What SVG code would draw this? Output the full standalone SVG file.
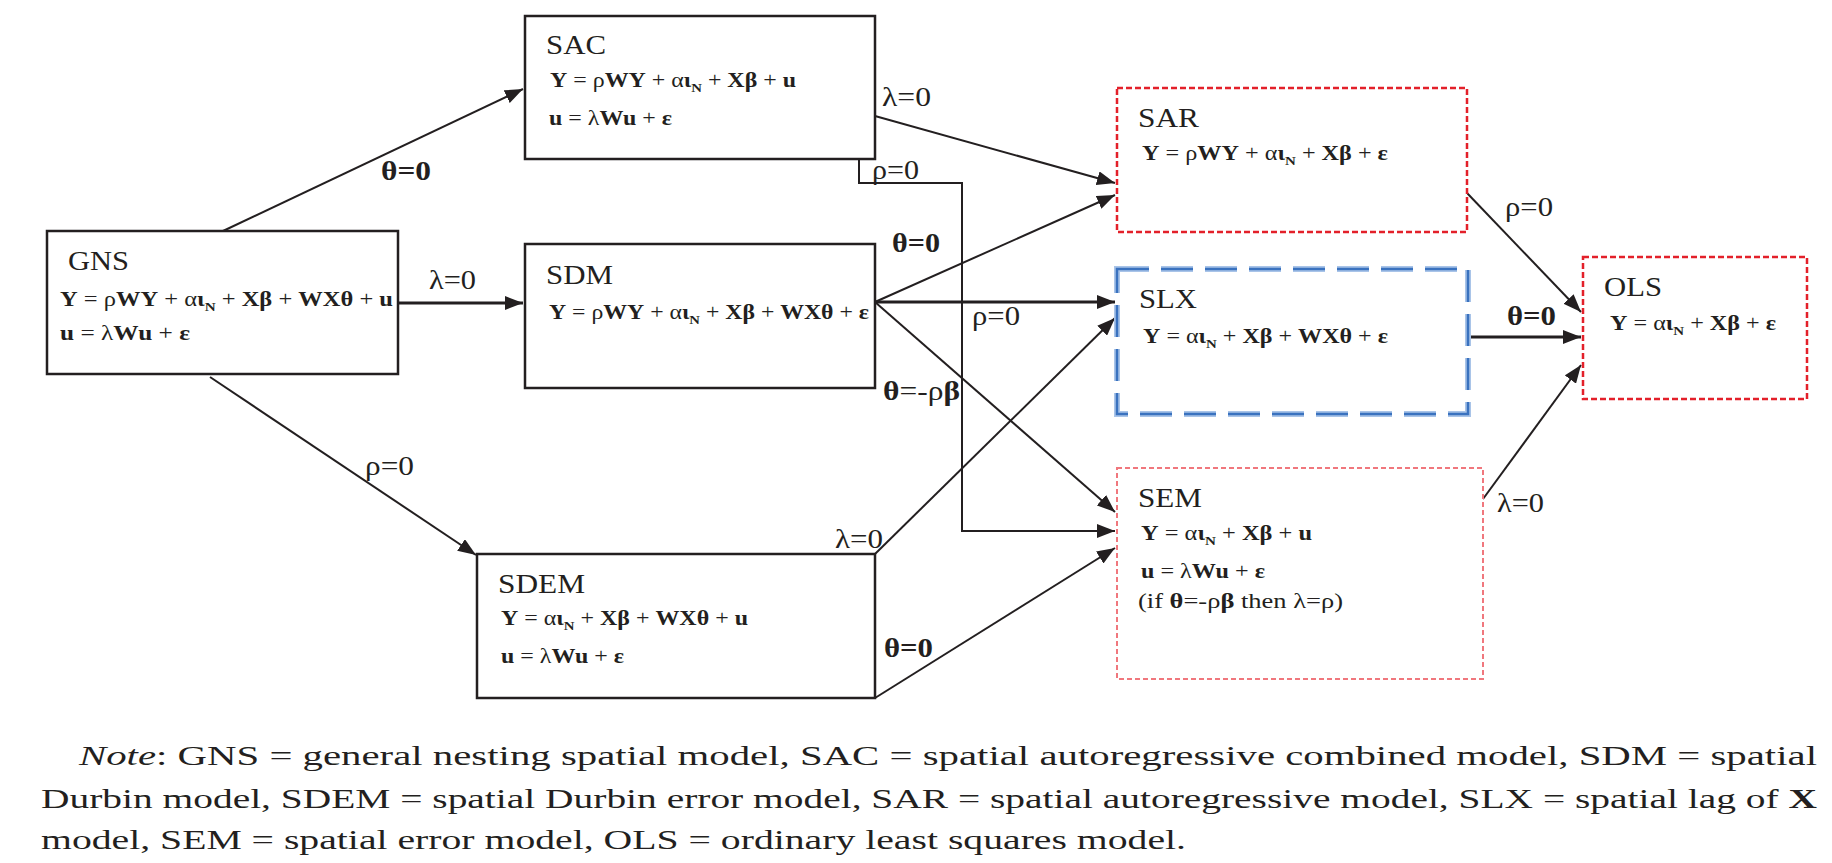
<svg xmlns="http://www.w3.org/2000/svg" width="1832" height="863" viewBox="0 0 1832 863">
<style>
text{font-family:"Liberation Serif","Times New Roman",serif;fill:#231f20}
.title{font-size:27px}
.eq{font-size:21px}
.b{font-weight:bold}
.sub{font-size:13px;font-weight:bold}
.lbl{font-size:28px}
.box{fill:#fff;stroke:#231f20;stroke-width:2.5}
.red{fill:#fff;stroke:#e3202a;stroke-width:2.5;stroke-dasharray:6 3}
.pink{fill:#fff;stroke:#f0777d;stroke-width:2;stroke-dasharray:5 3}
.blueo{fill:none;stroke:#a9c4e8;stroke-width:6;stroke-dasharray:32 12}
.bluei{fill:none;stroke:#3a72bf;stroke-width:2.5;stroke-dasharray:32 12}
.c{fill:none;stroke:#231f20;stroke-width:2;marker-end:url(#ah)}
.c3{fill:none;stroke:#231f20;stroke-width:3;marker-end:url(#ah)}
.note{font-size:27px}
</style>
<defs>
<marker id="ah" markerUnits="userSpaceOnUse" markerWidth="20" markerHeight="14" refX="18" refY="7" orient="auto">
<path d="M0,0 L18,7 L0,14 z" fill="#231f20"/>
</marker>
</defs>
<rect width="1832" height="863" fill="#fff"/>

<g id="connectors">
<path class="c" d="M223,231 L523,89"/>
<path class="c3" d="M398,303 L523,303"/>
<path class="c" d="M210,377 L476,555"/>
<path class="c" d="M875,116 L1115,183"/>
<path class="c" d="M859,159 L859,183 L962,183 L962,531 L1115,531"/>
<path class="c" d="M875,302 L1115,195"/>
<path class="c3" d="M875,302 L1115,302"/>
<path class="c" d="M875,302 L1115,512"/>
<path class="c" d="M875,554 L1115,318"/>
<path class="c" d="M875,698 L1115,548"/>
<path class="c" d="M1467,193 L1581,312"/>
<path class="c3" d="M1467,337 L1581,337"/>
<path class="c" d="M1483,499 L1581,365"/>
<text class="lbl b" x="381" y="180" textLength="50" lengthAdjust="spacingAndGlyphs">θ=0</text>
<text class="lbl" x="429" y="289" textLength="47" lengthAdjust="spacingAndGlyphs">λ=0</text>
<text class="lbl" x="365" y="475" textLength="49" lengthAdjust="spacingAndGlyphs">ρ=0</text>
<text class="lbl" x="882" y="106" textLength="49" lengthAdjust="spacingAndGlyphs">λ=0</text>
<text class="lbl" x="872" y="179" textLength="47" lengthAdjust="spacingAndGlyphs">ρ=0</text>
<text class="lbl b" x="892" y="252" textLength="48" lengthAdjust="spacingAndGlyphs">θ=0</text>
<text class="lbl" x="972" y="325" textLength="48" lengthAdjust="spacingAndGlyphs">ρ=0</text>
<text class="lbl" x="883" y="400" textLength="77" lengthAdjust="spacingAndGlyphs"><tspan class="b">θ</tspan>=-ρ<tspan class="b">β</tspan></text>
<text class="lbl" x="835" y="548" textLength="48" lengthAdjust="spacingAndGlyphs">λ=0</text>
<text class="lbl b" x="884" y="657" textLength="49" lengthAdjust="spacingAndGlyphs">θ=0</text>
<text class="lbl" x="1505" y="216" textLength="48" lengthAdjust="spacingAndGlyphs">ρ=0</text>
<text class="lbl b" x="1507" y="325" textLength="49" lengthAdjust="spacingAndGlyphs">θ=0</text>
<text class="lbl" x="1497" y="512" textLength="47" lengthAdjust="spacingAndGlyphs">λ=0</text>
</g>

<g id="GNS">
<rect class="box" x="47" y="231" width="351" height="143"/>
<text class="title" x="68" y="270" textLength="61" lengthAdjust="spacingAndGlyphs">GNS</text>
<text class="eq" x="60" y="306" textLength="333" lengthAdjust="spacingAndGlyphs"><tspan class="b">Y</tspan> = ρ<tspan class="b">WY</tspan> + α<tspan class="b">ι</tspan><tspan class="sub" dy="5">N</tspan><tspan dy="-5"> + </tspan><tspan class="b">Xβ</tspan> + <tspan class="b">WXθ</tspan> + <tspan class="b">u</tspan></text>
<text class="eq" x="60" y="340" textLength="130" lengthAdjust="spacingAndGlyphs"><tspan class="b">u</tspan> = λ<tspan class="b">Wu</tspan> + <tspan class="b">ε</tspan></text>
</g>

<g id="SAC">
<rect class="box" x="525" y="16" width="350" height="143"/>
<text class="title" x="546" y="54" textLength="60" lengthAdjust="spacingAndGlyphs">SAC</text>
<text class="eq" x="550" y="87" textLength="246" lengthAdjust="spacingAndGlyphs"><tspan class="b">Y</tspan> = ρ<tspan class="b">WY</tspan> + α<tspan class="b">ι</tspan><tspan class="sub" dy="5">N</tspan><tspan dy="-5"> + </tspan><tspan class="b">Xβ</tspan> + <tspan class="b">u</tspan></text>
<text class="eq" x="549" y="125" textLength="123" lengthAdjust="spacingAndGlyphs"><tspan class="b">u</tspan> = λ<tspan class="b">Wu</tspan> + <tspan class="b">ε</tspan></text>
</g>

<g id="SDM">
<rect class="box" x="525" y="244" width="350" height="144"/>
<text class="title" x="546" y="284" textLength="67" lengthAdjust="spacingAndGlyphs">SDM</text>
<text class="eq" x="549" y="319" textLength="320" lengthAdjust="spacingAndGlyphs"><tspan class="b">Y</tspan> = ρ<tspan class="b">WY</tspan> + α<tspan class="b">ι</tspan><tspan class="sub" dy="5">N</tspan><tspan dy="-5"> + </tspan><tspan class="b">Xβ</tspan> + <tspan class="b">WXθ</tspan> + <tspan class="b">ε</tspan></text>
</g>

<g id="SDEM">
<rect class="box" x="477" y="554" width="398" height="144"/>
<text class="title" x="498" y="593" textLength="87" lengthAdjust="spacingAndGlyphs">SDEM</text>
<text class="eq" x="501" y="625" textLength="247" lengthAdjust="spacingAndGlyphs"><tspan class="b">Y</tspan> = α<tspan class="b">ι</tspan><tspan class="sub" dy="5">N</tspan><tspan dy="-5"> + </tspan><tspan class="b">Xβ</tspan> + <tspan class="b">WXθ</tspan> + <tspan class="b">u</tspan></text>
<text class="eq" x="501" y="663" textLength="123" lengthAdjust="spacingAndGlyphs"><tspan class="b">u</tspan> = λ<tspan class="b">Wu</tspan> + <tspan class="b">ε</tspan></text>
</g>

<g id="SAR">
<rect class="red" x="1117" y="88" width="350" height="144"/>
<text class="title" x="1138" y="127" textLength="61" lengthAdjust="spacingAndGlyphs">SAR</text>
<text class="eq" x="1142" y="160" textLength="246" lengthAdjust="spacingAndGlyphs"><tspan class="b">Y</tspan> = ρ<tspan class="b">WY</tspan> + α<tspan class="b">ι</tspan><tspan class="sub" dy="5">N</tspan><tspan dy="-5"> + </tspan><tspan class="b">Xβ</tspan> + <tspan class="b">ε</tspan></text>
</g>

<g id="SLX">
<rect class="blueo" x="1117" y="269" width="351" height="145"/>
<rect class="bluei" x="1117" y="269" width="351" height="145"/>
<text class="title" x="1139" y="308" textLength="58" lengthAdjust="spacingAndGlyphs">SLX</text>
<text class="eq" x="1143" y="343" textLength="245" lengthAdjust="spacingAndGlyphs"><tspan class="b">Y</tspan> = α<tspan class="b">ι</tspan><tspan class="sub" dy="5">N</tspan><tspan dy="-5"> + </tspan><tspan class="b">Xβ</tspan> + <tspan class="b">WXθ</tspan> + <tspan class="b">ε</tspan></text>
</g>

<g id="SEM">
<rect class="pink" x="1117" y="468" width="366" height="211"/>
<text class="title" x="1138" y="507" textLength="64" lengthAdjust="spacingAndGlyphs">SEM</text>
<text class="eq" x="1141" y="540" textLength="171" lengthAdjust="spacingAndGlyphs"><tspan class="b">Y</tspan> = α<tspan class="b">ι</tspan><tspan class="sub" dy="5">N</tspan><tspan dy="-5"> + </tspan><tspan class="b">Xβ</tspan> + <tspan class="b">u</tspan></text>
<text class="eq" x="1141" y="578" textLength="124" lengthAdjust="spacingAndGlyphs"><tspan class="b">u</tspan> = λ<tspan class="b">Wu</tspan> + <tspan class="b">ε</tspan></text>
<text class="eq" x="1138" y="608" textLength="205" lengthAdjust="spacingAndGlyphs">(if <tspan class="b">θ</tspan>=-ρ<tspan class="b">β</tspan> then λ=ρ)</text>
</g>

<g id="OLS">
<rect class="red" x="1583" y="257" width="224" height="142"/>
<text class="title" x="1604" y="296" textLength="58" lengthAdjust="spacingAndGlyphs">OLS</text>
<text class="eq" x="1610" y="330" textLength="166" lengthAdjust="spacingAndGlyphs"><tspan class="b">Y</tspan> = α<tspan class="b">ι</tspan><tspan class="sub" dy="5">N</tspan><tspan dy="-5"> + </tspan><tspan class="b">Xβ</tspan> + <tspan class="b">ε</tspan></text>
</g>

<g id="note">
<text class="note" x="79" y="765" textLength="1738" lengthAdjust="spacingAndGlyphs"><tspan font-style="italic">Note</tspan>: GNS = general nesting spatial model, SAC = spatial autoregressive combined model, SDM = spatial</text>
<text class="note" x="41" y="808" textLength="1776" lengthAdjust="spacingAndGlyphs">Durbin model, SDEM = spatial Durbin error model, SAR = spatial autoregressive model, SLX = spatial lag of <tspan class="b">X</tspan></text>
<text class="note" x="41" y="849" textLength="1145" lengthAdjust="spacingAndGlyphs">model, SEM = spatial error model, OLS = ordinary least squares model.</text>
</g>
</svg>
